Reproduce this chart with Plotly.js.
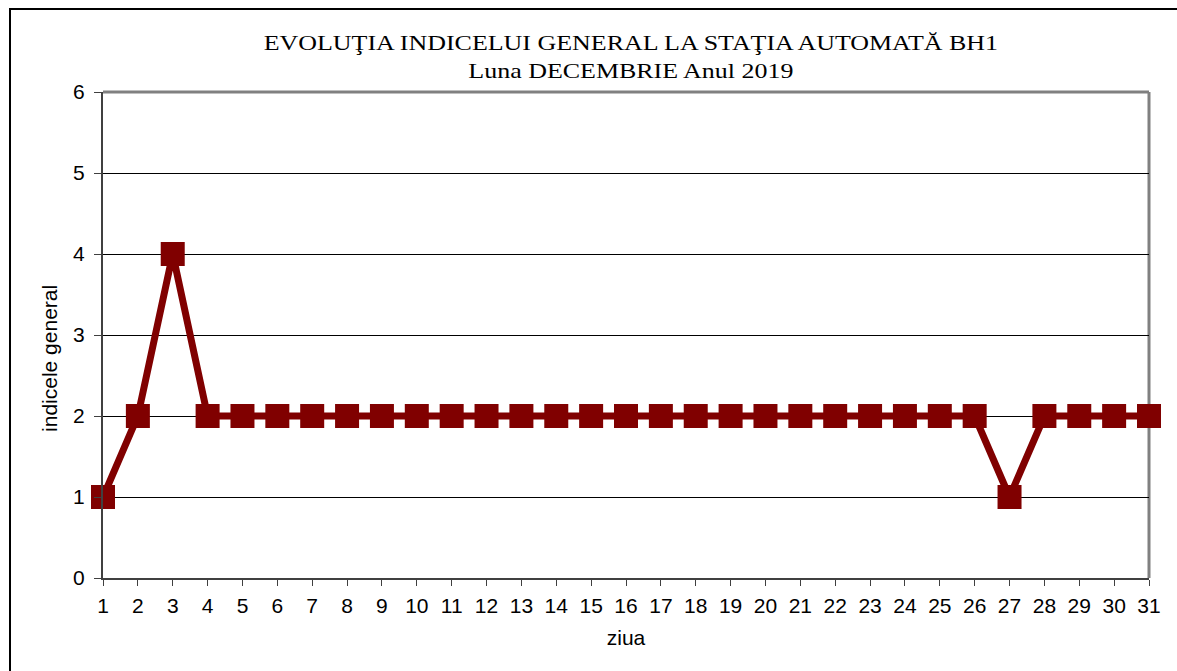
<!DOCTYPE html>
<html>
<head>
<meta charset="utf-8">
<script src="https://cdn.plot.ly/plotly-3.0.1.min.js"></script>
<style>
html,body{margin:0;padding:0;background:#fff;}
#wrap{position:relative;width:1177px;height:671px;overflow:hidden;}
#chart{position:absolute;left:0;top:0;width:1177px;height:671px;}
#frame{position:absolute;left:9px;top:8px;width:1200px;height:700px;border-left:2px solid #000;border-top:2px solid #000;pointer-events:none;}
#chart .gtitle{transform-box:fill-box;transform-origin:center;transform:scaleX(1.18);}
</style>
</head>
<body>
<div id="wrap"><div id="chart"></div><div id="frame"></div></div>
<script>
const days = [1,2,3,4,5,6,7,8,9,10,11,12,13,14,15,16,17,18,19,20,21,22,23,24,25,26,27,28,29,30,31];
const indice = [1,2,4,2,2,2,2,2,2,2,2,2,2,2,2,2,2,2,2,2,2,2,2,2,2,2,1,2,2,2,2];
const yTicks = [0,1,2,3,4,5,6];

const trace = {
  x: days, y: indice, type: 'scatter', mode: 'lines+markers',
  line: {color: '#800000', width: 7},
  marker: {symbol: 'square', size: 24, color: '#800000'},
  cliponaxis: false, hoverinfo: 'none'
};

const sans = 'Liberation Sans, Arial, sans-serif';

const layout = {
  width: 1177, height: 671,
  margin: {l: 103, r: 28, t: 92, b: 93},
  paper_bgcolor: '#fff', plot_bgcolor: '#fff',
  showlegend: false,
  title: {
    text: 'EVOLUŢIA INDICELUI GENERAL LA STAŢIA AUTOMATĂ BH1<br>Luna DECEMBRIE Anul 2019',
    font: {family: 'Liberation Serif, Times New Roman, serif', size: 22, color: '#000'},
    x: 0.536, xanchor: 'center', y: 0.926, yanchor: 'top'
  },
  xaxis: {
    range: [1, 31], tickvals: days, ticktext: days.map(String),
    showgrid: false, zeroline: false,
    showline: true, linecolor: '#404040', linewidth: 2,
    ticks: 'outside', ticklen: 6, tickcolor: '#404040', tickwidth: 1,
    ticklabelstandoff: 2,
    tickfont: {family: sans, size: 21, color: '#000'},
    title: {text: 'ziua', font: {family: sans, size: 21, color: '#000'}, standoff: 14}
  },
  yaxis: {
    range: [0, 6], tickvals: yTicks,
    showgrid: true, gridcolor: '#000', gridwidth: 1,
    zeroline: false,
    showline: true, linecolor: '#404040', linewidth: 2,
    ticks: 'outside', ticklen: 7, tickcolor: '#404040', tickwidth: 1,
    ticklabelstandoff: 5,
    tickfont: {family: sans, size: 21, color: '#000'}
  },
  annotations: [
    {text: 'indicele general', xref: 'paper', yref: 'paper', x: -0.0507, y: 0.4527,
     xanchor: 'center', yanchor: 'middle', textangle: -90, showarrow: false,
     font: {family: sans, size: 21, color: '#000'}}
  ],
  shapes: [
    {type: 'line', xref: 'paper', yref: 'paper', x0: 0, x1: 1, y0: 1, y1: 1, line: {color: '#808080', width: 3}, layer: 'below'},
    {type: 'line', xref: 'paper', yref: 'paper', x0: 1, x1: 1, y0: 0, y1: 1, line: {color: '#808080', width: 3}, layer: 'below'}
  ]
};

Plotly.newPlot('chart', [trace], layout, {displayModeBar: false, staticPlot: true});
</script>
</body>
</html>
